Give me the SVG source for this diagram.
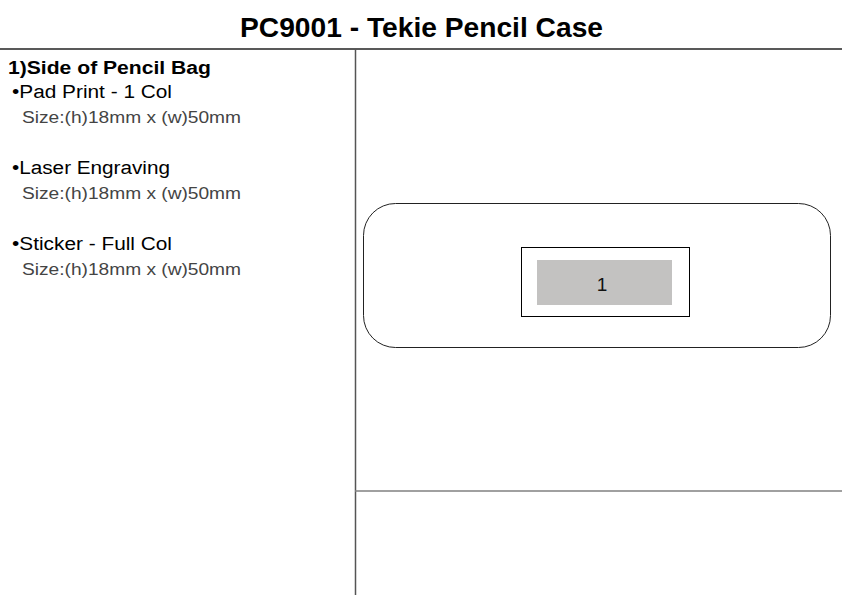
<svg xmlns="http://www.w3.org/2000/svg" width="842" height="595" viewBox="0 0 842 595">
<style>
.t{font-family:"Liberation Sans",Arial,sans-serif;}
.title{font-size:28px;font-weight:bold;fill:#000;}
.h{font-size:18px;font-weight:bold;fill:#000;}
.b{font-size:18px;fill:#000;}
.s{font-size:16px;fill:#444;}
.rule{stroke-width:1.5;fill:none;}
</style>
<rect width="842" height="595" fill="#fff"/>
<text class="t title" x="240" y="37" textLength="363" lengthAdjust="spacingAndGlyphs">PC9001 - Tekie Pencil Case</text>
<g id="rules">
<line class="rule" x1="0" y1="49" x2="842" y2="49" stroke="#222"/>
<line class="rule" x1="355.5" y1="49" x2="355.5" y2="595" stroke="#555"/>
<line class="rule" x1="355" y1="491" x2="842" y2="491" stroke="#808080"/>
</g>
<g id="specs">
<text class="t h" x="8" y="74" textLength="203" lengthAdjust="spacingAndGlyphs">1)Side of Pencil Bag</text>
<text class="t b" x="12" y="98" textLength="160" lengthAdjust="spacingAndGlyphs">•Pad Print - 1 Col</text>
<text class="t s" x="22" y="123" textLength="219" lengthAdjust="spacingAndGlyphs">Size:(h)18mm x (w)50mm</text>
<text class="t b" x="12" y="174" textLength="158" lengthAdjust="spacingAndGlyphs">•Laser Engraving</text>
<text class="t s" x="22" y="199" textLength="219" lengthAdjust="spacingAndGlyphs">Size:(h)18mm x (w)50mm</text>
<text class="t b" x="12" y="250" textLength="160" lengthAdjust="spacingAndGlyphs">•Sticker - Full Col</text>
<text class="t s" x="22" y="275" textLength="219" lengthAdjust="spacingAndGlyphs">Size:(h)18mm x (w)50mm</text>
</g>
<g id="case">
<rect x="363.5" y="203.5" width="467" height="144" rx="32" ry="32" fill="#fff" stroke="#222" stroke-width="1"/>
</g>
<g id="area">
<rect x="521.5" y="247.5" width="168" height="69" fill="#fff" stroke="#000" stroke-width="1"/>
<rect x="537" y="260" width="135" height="45" fill="#c3c2c1"/>
<text class="t" x="602" y="291" font-size="19" text-anchor="middle" fill="#111">1</text>
</g>
</svg>
